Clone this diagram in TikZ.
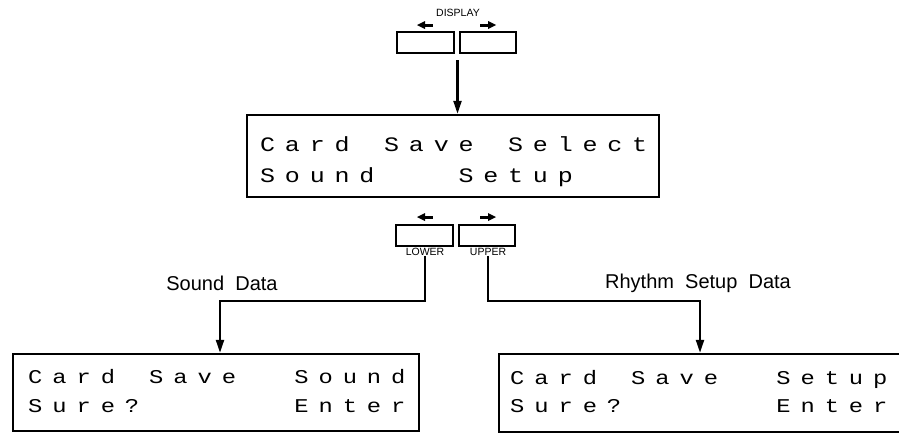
\documentclass[tikz,border=0pt]{standalone}
\usepackage{fontspec}
\setmainfont{Liberation Sans}
\newfontfamily\lcdfont[FakeStretch=1.22]{Liberation Mono}
\usetikzlibrary{arrows.meta}
\newlength\lcdpitch
\let\lcdend\relax
\def\lcdloop#1{\ifx#1\lcdend\else\makebox[\lcdpitch][l]{\ifx#1_\else#1\fi}\expandafter\lcdloop\fi}
\newcommand\lcdstr[2]{\setlength\lcdpitch{#1}\lcdloop#2\lcdend}
\begin{document}
\begin{tikzpicture}[x=1pt,y=-1pt,
  box/.style={draw, line width=2.4pt, inner sep=0pt},
  btn/.style={draw, line width=2pt, minimum width=57pt, minimum height=21pt, inner sep=0pt},
  conn/.style={line width=2.2pt},
  arr/.style={conn, -{Triangle[length=13pt,width=8pt]}},
  lcd/.style={anchor=base west, inner sep=0pt, font=\lcdfont\fontsize{20.5}{20}\selectfont},
  lcds/.style={lcd, font=\lcdfont\fontsize{19.5}{19}\selectfont},
  lab/.style={font=\fontsize{20}{24}\selectfont, inner sep=0pt},
  small/.style={font=\fontsize{10.5}{12}\selectfont, inner sep=0pt},
  barline/.style={line width=3pt}]
\useasboundingbox (0,0) rectangle (899,437);
\clip (0,0) rectangle (899,437);

% display buttons
\node[small] (disp) at (458,13) {DISPLAY};
\node[btn] (dl) at (425.5,42.5) {};
\node[btn, minimum width=56pt] (dr) at (488,42.5) {};
\fill (417,25) -- (425,21) -- (425,29) -- cycle;
\draw[barline] (424,25) -- (433,25);
\fill (496,25) -- (488,21) -- (488,29) -- cycle;
\draw[barline] (480,25) -- (489,25);

% main display
\node[box, minimum width=412pt, minimum height=82pt] (main) at (453,156) {};
\node[lcd] (m1) at (260,151) {\lcdstr{24.8pt}{Card_Save_Select}};
\node[lcd] (m2) at (260,182) {\lcdstr{24.8pt}{Sound___Setup}};
\coordinate (dsrc) at (457.5,60);
\draw[arr] (dsrc) -- (dsrc |- main.north);

% lower / upper buttons
\node[btn] (ll) at (424.5,235.5) {};
\node[btn, minimum width=56pt] (lr) at (487,235.5) {};
\fill (417,217) -- (425,213) -- (425,221) -- cycle;
\draw[barline] (424,217) -- (433,217);
\fill (496,217) -- (488,213) -- (488,221) -- cycle;
\draw[barline] (480,217) -- (489,217);
\node[small] (low) at (425,252) {LOWER};
\node[small] (up) at (488,252) {UPPER};

% result displays
\node[box, minimum width=406pt, minimum height=77pt] (sbox) at (216,392.5) {};
\node[lcds] (s1) at (28,383) {\lcdstr{24.2pt}{Card_Save__Sound}};
\node[lcds] (s2) at (28,412) {\lcdstr{24.2pt}{Sure?______Enter}};
\node[box, minimum width=420pt, minimum height=78pt] (rbox) at (709,393) {};
\node[lcds] (r1) at (510,384) {\lcdstr{24.2pt}{Card_Save__Setup}};
\node[lcds] (r2) at (510,412) {\lcdstr{24.2pt}{Sure?______Enter}};

% connectors
\coordinate (lturn) at (220,301);
\coordinate (rturn) at (700,301);
\draw[arr] (low.south) |- (lturn) -- (lturn |- sbox.north);
\draw[arr] (up.south) |- (rturn) -- (rturn |- rbox.north);
\node[lab] (sd) at (222,283) {Sound\ \ Data};
\node[lab] (rd) at (698,283) {Rhythm\ \ Setup\ \ Data};
\end{tikzpicture}
\end{document}
